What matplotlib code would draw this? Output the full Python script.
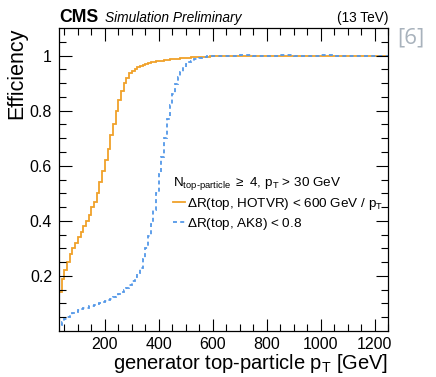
import numpy as np
import matplotlib
matplotlib.use("Agg")
import matplotlib.pyplot as plt
from matplotlib.lines import Line2D

plt.rcParams["font.family"] = ["Liberation Sans", "DejaVu Sans"]
plt.rcParams["mathtext.fontset"] = "custom"
plt.rcParams["mathtext.rm"] = "Liberation Sans"
plt.rcParams["mathtext.it"] = "Liberation Sans:italic"
plt.rcParams["mathtext.bf"] = "Liberation Sans:bold"

# Bin edges: 10 GeV bins up to 600 GeV, then 50 GeV bins on the plateau
edges = np.concatenate([np.arange(20, 600, 10), np.arange(600, 1251, 50)])

eff_hotvr = [
    0.10, 0.14, 0.19, 0.22, 0.25, 0.28, 0.30, 0.32, 0.34, 0.36,
    0.38, 0.40, 0.42, 0.45, 0.47, 0.50, 0.54, 0.58, 0.62, 0.66,
    0.71, 0.75, 0.80, 0.84, 0.87, 0.90, 0.92, 0.935, 0.945, 0.952,
    0.958, 0.963, 0.967, 0.970, 0.973, 0.975, 0.977, 0.979, 0.981, 0.982,
    0.984, 0.985, 0.986, 0.987, 0.988, 0.989, 0.990, 0.991, 0.991, 0.992,
    0.993, 0.993, 0.994, 0.995, 0.995, 0.996, 0.996, 0.997,
    0.998, 0.998, 0.999, 0.998, 0.999, 0.999, 0.998, 0.999, 0.999, 0.998,
    0.999, 0.999, 0.999,
]

eff_ak8 = [
    0.015, 0.022, 0.032, 0.042, 0.052, 0.058, 0.065, 0.070, 0.075, 0.079,
    0.082, 0.085, 0.089, 0.092, 0.096, 0.099, 0.103, 0.107, 0.110, 0.114,
    0.118, 0.122, 0.128, 0.133, 0.140, 0.148, 0.155, 0.168, 0.182, 0.195,
    0.212, 0.228, 0.260, 0.300, 0.345, 0.390, 0.440, 0.500, 0.570, 0.630,
    0.700, 0.770, 0.820, 0.860, 0.895, 0.922, 0.942, 0.958, 0.968, 0.976,
    0.982, 0.986, 0.989, 0.992, 0.994, 0.996, 0.997, 0.998,
    0.999, 1.000, 1.001, 1.000, 1.000, 1.001, 1.000, 1.000, 1.001, 1.000,
    1.000, 1.000, 1.000,
]

xticks = [200, 400, 600, 800, 1000, 1200]
yticks = [0.2, 0.4, 0.6, 0.8, 1.0]
ytick_labels = ["0.2", "0.4", "0.6", "0.8", "1"]

fig = plt.figure(figsize=(4.36, 3.77), dpi=100)
ax = fig.add_axes([0.1353, 0.122, 0.7547, 0.8037])

orange = "#f0a12a"
blue = "#5498e8"

ax.stairs(eff_hotvr, edges, baseline=None, color=orange, lw=1.3)
ax.stairs(eff_ak8, edges, baseline=None, color=blue, lw=1.3,
          linestyle=(0, (2.2, 1.8)))

ax.set_xlim(30, 1250)
ax.set_ylim(0, 1.1)
ax.set_xticks(xticks)
ax.set_xticks(np.arange(50, 1251, 50), minor=True)
ax.set_yticks(yticks)
ax.set_yticklabels(ytick_labels)
ax.set_yticks(np.arange(0.05, 1.1, 0.05), minor=True)
ax.tick_params(which="both", direction="in", top=True, right=True,
               labelsize=11.5, width=0.8)
ax.tick_params(which="major", length=9, pad=5)
ax.tick_params(axis="x", which="major", pad=4.5)
ax.tick_params(which="minor", length=5)
for s in ax.spines.values():
    s.set_linewidth(0.9)

ax.set_xlabel(r"generator top-particle p$_{\mathregular{T}}$ [GeV]",
              fontsize=14.5, loc="right", labelpad=0)
ax.set_ylabel("Efficiency", fontsize=15.5, loc="top", labelpad=2)

fig.text(0.137, 0.942, "CMS", fontsize=12.7, fontweight="bold")
fig.text(0.24, 0.942, "Simulation Preliminary", fontsize=9.9, style="italic")
fig.text(0.89, 0.942, "(13 TeV)", fontsize=9.8, ha="right")
fig.text(0.91, 0.885, "[6]", fontsize=16, color="#a8b2bc",
         family=["Open Sans", "DejaVu Sans"])

handles = [Line2D([], [], color=orange, lw=1.3),
           Line2D([], [], color=blue, lw=1.3, linestyle=(0, (2.2, 1.8)))]
labels = [r"$\Delta$R(top, HOTVR) < 600 GeV / p$_{\mathregular{T}}$",
          r"$\Delta$R(top, AK8) < 0.8"]
leg = ax.legend(handles, labels,
                title=r"N$_{\mathregular{top\text{-}particle}}$ $\geq$ 4, p$_{\mathregular{T}}$ > 30 GeV",
                loc="upper left", bbox_to_anchor=(0.397, 0.537),
                bbox_transform=fig.transFigure, frameon=False,
                fontsize=9.7, title_fontsize=9.7, alignment="left",
                handlelength=0.9, handletextpad=0.15, labelspacing=0.3,
                borderpad=0, borderaxespad=0)

fig.savefig("out.png", dpi=100)
